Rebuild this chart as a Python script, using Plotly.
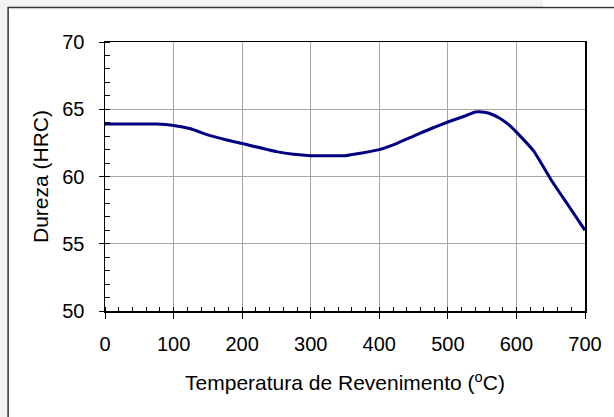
import plotly.graph_objects as go

# Data
temperatura = [0, 50, 75, 100, 125, 150, 175, 200, 250, 275, 300, 350, 375, 400,
               425, 450, 475, 500, 525, 540, 550, 560, 575, 590, 600, 625, 650, 675, 700]
dureza = [63.9, 63.9, 63.9, 63.8, 63.55, 63.1, 62.75, 62.45, 61.85, 61.65, 61.55, 61.55, 61.75, 62.0,
          62.45, 63.0, 63.55, 64.05, 64.5, 64.8, 64.8, 64.7, 64.35, 63.8, 63.3, 61.9, 59.8, 57.9, 56.0]

x_ticks = [0, 100, 200, 300, 400, 500, 600, 700]
y_ticks = [50, 55, 60, 65, 70]

W, H = 614, 417
L, R, T, B = 105, 588, 42, 311

def px(xp):
    return (xp - L) / (R - L)

def py(yp):
    return (B - yp) / (B - T)

FONT = "Liberation Sans, Arial, sans-serif"

fig = go.Figure()
fig.add_trace(go.Scatter(
    x=temperatura, y=dureza, mode="lines",
    line=dict(color="#000080", width=3, shape="spline", smoothing=0.5),
    hoverinfo="skip", showlegend=False,
))

fig.update_layout(
    width=W, height=H,
    margin=dict(l=L, r=W - R, t=T, b=H - B, pad=0),
    paper_bgcolor="#f2f3f3",
    plot_bgcolor="white",
    font=dict(family=FONT, size=20, color="black"),
    shapes=[
        # white chart area with dark border
        dict(type="rect", xref="paper", yref="paper", layer="below",
             x0=px(7.5), x1=px(640), y0=py(440), y1=py(7.5),
             fillcolor="white", line=dict(color="#333333", width=1.5)),
        dict(type="rect", xref="paper", yref="paper", layer="below",
             x0=px(546), x1=px(640), y0=py(6.5), y1=py(-5),
             fillcolor="white", line=dict(width=0)),
    ],
)

fig.update_xaxes(
    range=[0, 700], tickvals=x_ticks, ticktext=[str(v) for v in x_ticks],
    showline=True, linecolor="black", linewidth=1.5, mirror=True,
    ticks="outside", ticklen=6, tickcolor="black", tickwidth=1,
    showgrid=True, gridcolor="#a6a6a6", gridwidth=1, zeroline=False,
    minor=dict(dtick=20, ticks="inside", ticklen=4, tickcolor="black", showgrid=False),
    ticklabelstandoff=8,
    tickfont=dict(family=FONT, size=20),
    title=dict(text="Temperatura de Revenimento (<sup>o</sup>C)",
               font=dict(family=FONT, size=21), standoff=22),
)
fig.update_yaxes(
    range=[50, 70], tickvals=y_ticks, ticktext=[str(v) for v in y_ticks],
    showline=True, linecolor="black", linewidth=1.5, mirror=True,
    ticks="outside", ticklen=5, tickcolor="black", tickwidth=1,
    showgrid=True, gridcolor="#a6a6a6", gridwidth=1, zeroline=False,
    minor=dict(dtick=1, ticks="inside", ticklen=5, tickcolor="black", showgrid=False),
    ticklabelstandoff=10,
    tickfont=dict(family=FONT, size=20),
    title=dict(text="Dureza (HRC)", font=dict(family=FONT, size=21), standoff=8),
)

fig.write_html("out.html", config={"displayModeBar": False, "staticPlot": True},
               post_script="document.body.style.margin='0';document.body.style.overflow='hidden';")
